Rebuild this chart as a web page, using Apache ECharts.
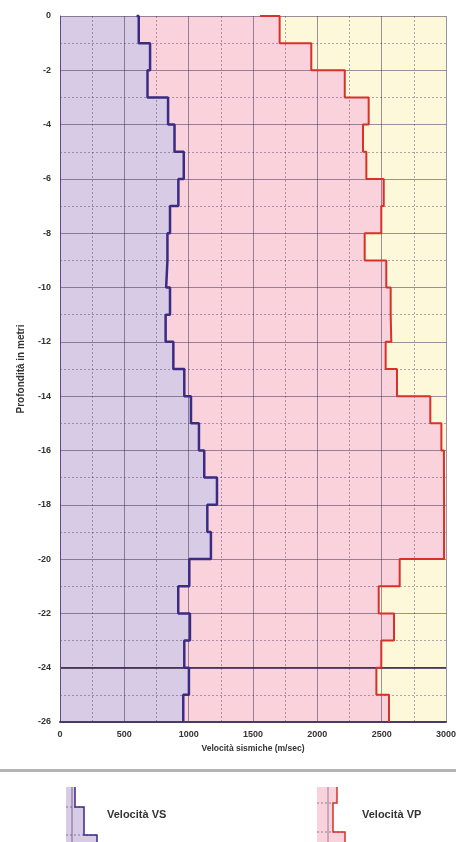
<!DOCTYPE html>
<html>
<head>
<meta charset="utf-8">
<script src="https://cdn.jsdelivr.net/npm/echarts@6/dist/echarts.min.js"></script>
<style>
html,body{margin:0;padding:0;background:#fff;}
#chart{width:456px;height:842px;}
</style>
</head>
<body>
<div id="chart"></div>
<script>
// Layer boundaries (m, negative = depth)
const depthBounds = [0,-1,-2,-3,-4,-5,-6,-7,-8,-9,-10,-11,-12,-13,-14,-15,-16,-17,-18,-19,-20,-21,-22,-23,-24,-25,-26];
// Surface start of each profile (m/sec)
const vsStart = 595;
const vpStart = 1555;
// Velocità VS per layer (m/sec)
const vsValues = [612,700,680,840,890,962,920,855,835,825,855,821,881,966,1018,1080,1121,1220,1145,1173,1005,919,1010,966,1002,958];
// Velocità VP per layer (m/sec)
const vpValues = [1707,1953,2213,2399,2355,2381,2516,2497,2368,2536,2570,2575,2531,2619,2878,2964,2984,2985,2985,2985,2640,2477,2596,2497,2459,2557];
// Axis ticks
const xTicks = [0,500,1000,1500,2000,2500,3000];
const yTicks = [0,-2,-4,-6,-8,-10,-12,-14,-16,-18,-20,-22,-24,-26];

function stepPath(start, vals){
  const pts = [[start, depthBounds[0]]];
  for (let i = 0; i < vals.length; i++){
    pts.push([vals[i], depthBounds[i]]);
    pts.push([vals[i], depthBounds[i+1]]);
  }
  return pts;
}
const vsPath = stepPath(vsStart, vsValues);
const vpPath = stepPath(vpStart, vpValues);

function fillSeries(path, color, z){
  return {
    type:'custom', z:z, silent:true,
    data:[0],
    renderItem:function(params, api){
      const pts = [api.coord([0, depthBounds[0]])];
      path.forEach(p => pts.push(api.coord(p)));
      pts.push(api.coord([0, depthBounds[depthBounds.length-1]]));
      return {type:'polygon', shape:{points:pts}, style:{fill:color, stroke:null}};
    }
  };
}

const labelFont = {fontFamily:'Liberation Sans, Arial, sans-serif', fontSize:9, color:'#333', fontWeight:'bold'};
const gridMajor = 'rgba(60,40,80,0.5)';
const gridMinor = 'rgba(60,40,80,0.4)';

const chart = echarts.init(document.getElementById('chart'), null, {renderer:'canvas'});
chart.setOption({
  animation:false,
  backgroundColor:'#ffffff',
  grid:{left:60, right:10, top:16, bottom:120, show:true, backgroundColor:'#fdf8da', borderWidth:0,
        containLabel:false, outerBoundsMode:'none'},
  xAxis:{
    type:'value', min:xTicks[0], max:xTicks[xTicks.length-1], interval:500, z:5,
    name:'Velocità sismiche (m/sec)', nameLocation:'middle', nameGap:20,
    nameTextStyle:Object.assign({}, labelFont, {fontSize:8.5}),
    axisLine:{show:true, onZero:false, lineStyle:{color:'#4a3a6a', width:2}},
    axisTick:{show:false},
    axisLabel:Object.assign({margin:8, formatter:function(v){return String(v);}}, labelFont),
    splitLine:{show:true, lineStyle:{color:gridMajor, width:1}},
    minorTick:{show:false, splitNumber:2},
    minorSplitLine:{show:true, lineStyle:{color:gridMinor, width:1, type:[2,2]}}
  },
  yAxis:{
    type:'value', min:yTicks[yTicks.length-1], max:yTicks[0], interval:2, z:5,
    name:'Profondità in metri', nameLocation:'middle', nameGap:34, nameRotate:90,
    nameTextStyle:Object.assign({}, labelFont, {fontSize:10}),
    axisLine:{show:true, lineStyle:{color:'#5a4a8a', width:1}},
    axisTick:{show:false},
    axisLabel:Object.assign({margin:9, formatter:function(v){return String(v);}}, labelFont),
    splitLine:{show:true, lineStyle:{color:gridMajor, width:1}},
    minorTick:{show:false, splitNumber:2},
    minorSplitLine:{show:true, lineStyle:{color:gridMinor, width:1, type:[2,2]}}
  },
  series:[
    fillSeries(vpPath, '#f9d2dc', 1),
    fillSeries(vsPath, '#d8cbe6', 2),
    {
      type:'line', name:'Velocità VP', data:vpPath, z:10, symbol:'none', silent:true,
      lineStyle:{color:'#d8302a', width:2}, clip:false,
      markLine:{silent:true, symbol:'none', label:{show:false},
        lineStyle:{color:'rgba(50,30,70,0.75)', width:2, type:'solid'},
        data:[{yAxis:-24}]}
    },
    {
      type:'line', name:'Velocità VS', data:vsPath, z:11, symbol:'none', silent:true,
      lineStyle:{color:'#3a2b85', width:2.5}, clip:false
    }
  ],
  graphic:[
    {type:'rect', shape:{x:0, y:769, width:456, height:3}, style:{fill:'#b4b4b4'}, silent:true},
    // VS legend icon
    {type:'polygon', shape:{points:[[66,787],[75,787],[75,807],[84,807],[84,835],[97,835],[97,842],[66,842]]}, style:{fill:'#d8cbe6'}, silent:true},
    {type:'line', shape:{x1:72,y1:787,x2:72,y2:842}, style:{stroke:'rgba(60,40,80,0.6)', lineWidth:1}, silent:true},
    {type:'line', shape:{x1:66,y1:807,x2:84,y2:807}, style:{stroke:'rgba(60,40,80,0.5)', lineWidth:1, lineDash:[2,2]}, silent:true},
    {type:'line', shape:{x1:66,y1:835,x2:97,y2:835}, style:{stroke:'rgba(60,40,80,0.5)', lineWidth:1, lineDash:[2,2]}, silent:true},
    {type:'polyline', shape:{points:[[75,787],[75,807],[84,807],[84,835],[97,835],[97,842]]}, style:{stroke:'#3a2b85', lineWidth:1.5, fill:null}, silent:true},
    {type:'text', x:107, y:815, style:{text:'Velocità VS', fontFamily:'Liberation Sans, Arial, sans-serif', fontSize:11, fontWeight:'bold', fill:'#333', verticalAlign:'middle'}, silent:true},
    // VP legend icon
    {type:'polygon', shape:{points:[[317,787],[337,787],[337,803],[333,803],[333,832],[345,832],[345,842],[317,842]]}, style:{fill:'#f9d2dc'}, silent:true},
    {type:'line', shape:{x1:328,y1:787,x2:328,y2:842}, style:{stroke:'rgba(60,40,80,0.5)', lineWidth:1}, silent:true},
    {type:'line', shape:{x1:317,y1:803,x2:333,y2:803}, style:{stroke:'rgba(60,40,80,0.5)', lineWidth:1, lineDash:[2,2]}, silent:true},
    {type:'line', shape:{x1:317,y1:832,x2:345,y2:832}, style:{stroke:'rgba(60,40,80,0.5)', lineWidth:1, lineDash:[2,2]}, silent:true},
    {type:'polyline', shape:{points:[[337,787],[337,803],[333,803],[333,832],[345,832],[345,842]]}, style:{stroke:'#d8302a', lineWidth:1.5, fill:null}, silent:true},
    {type:'text', x:362, y:815, style:{text:'Velocità VP', fontFamily:'Liberation Sans, Arial, sans-serif', fontSize:11, fontWeight:'bold', fill:'#333', verticalAlign:'middle'}, silent:true}
  ]
});
</script>
</body>
</html>
